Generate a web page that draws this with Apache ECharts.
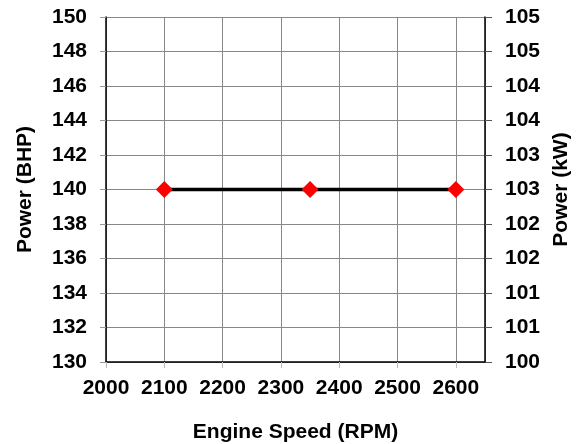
<!DOCTYPE html>
<html>
<head>
<meta charset="utf-8">
<script src="https://cdn.jsdelivr.net/npm/echarts@6/dist/echarts.min.js"></script>
<style>
  html, body { margin: 0; padding: 0; background: #fff; }
  #main { width: 579px; height: 444px; }
</style>
</head>
<body>
<div id="main"></div>
<script>
// engine speed (rpm) and power (bhp)
var speedRpm = [2100, 2350, 2600];
var powerBhp = [140, 140, 140];

var xTitle = 'Engine Speed (RPM)';
var yTitle = 'Power (BHP)';
var y2Title = 'Power (kW)';

var chart = echarts.init(document.getElementById('main'));

var font = '"Liberation Sans", Arial, sans-serif';
var lbl = { color: '#000', fontSize: 21, fontWeight: 'bold', fontFamily: font };
var ttl = { color: '#000', fontSize: 21, fontWeight: 'bold', fontFamily: font };

var option = {
    animation: false,
    backgroundColor: '#fff',
    grid: { left: 106, right: 94, top: 17, bottom: 82, outerBoundsMode: 'none' },
    xAxis: {
        type: 'value',
        min: 2000, max: 2650, interval: 100,
        name: xTitle,
        nameLocation: 'middle',
        nameGap: 60,
        nameTextStyle: ttl,
        axisLine: { onZero: false, lineStyle: { color: '#000', width: 1.5 } },
        axisTick: { show: true, length: 6, lineStyle: { color: '#bbb' } },
        axisLabel: Object.assign({
            margin: 16, showMaxLabel: false,
            formatter: function (v) { return String(v); }
        }, lbl),
        splitLine: { show: true, lineStyle: { color: '#888', width: 1 } }
    },
    yAxis: [
        {
            type: 'value',
            min: 130, max: 150, interval: 2,
            name: yTitle,
            nameLocation: 'middle',
            nameGap: 70,
            nameTextStyle: ttl,
            axisLine: { show: true, lineStyle: { color: '#000', width: 1.5 } },
            axisTick: { show: true, length: 6, lineStyle: { color: '#999' } },
            axisLabel: Object.assign({ margin: 19 }, lbl),
            splitLine: { show: true, lineStyle: { color: '#888', width: 1 } }
        },
        {
            type: 'value',
            position: 'right',
            min: 100, max: 105, interval: 0.5,
            name: y2Title,
            nameLocation: 'middle',
            nameGap: 66,
            nameRotate: 90,
            nameTextStyle: ttl,
            axisLine: { show: true, lineStyle: { color: '#000', width: 1.5 } },
            axisTick: { show: true, length: 7, lineStyle: { color: '#555' } },
            axisLabel: Object.assign({
                margin: 20,
                formatter: function (v) { return Math.round(v); }
            }, lbl),
            splitLine: { show: false }
        }
    ],
    series: [
        {
            type: 'line',
            data: speedRpm.map(function (s, i) { return [s, powerBhp[i]]; }),
            lineStyle: { color: '#000', width: 3.5 },
            symbol: 'diamond',
            symbolSize: 17,
            itemStyle: { color: '#ff0000' },
            z: 5
        }
    ]
};

chart.setOption(option);
</script>
</body>
</html>
